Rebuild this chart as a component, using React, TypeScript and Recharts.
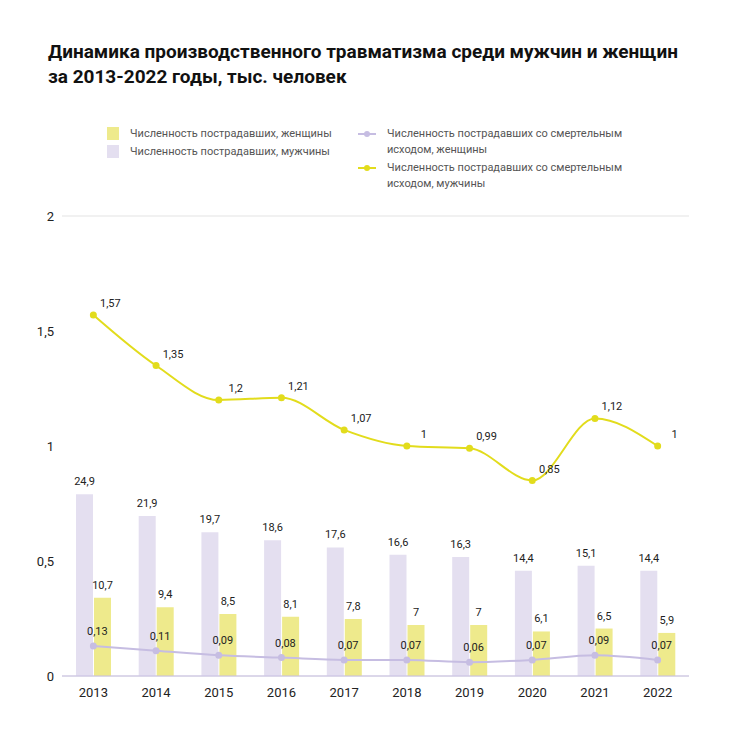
import {
  ComposedChart,
  Bar,
  Line,
  XAxis,
  YAxis,
  CartesianGrid,
  LabelList,
} from 'recharts'

const years = ['2013', '2014', '2015', '2016', '2017', '2018', '2019', '2020', '2021', '2022']
const injuredMen = [24.9, 21.9, 19.7, 18.6, 17.6, 16.6, 16.3, 14.4, 15.1, 14.4]
const injuredWomen = [10.7, 9.4, 8.5, 8.1, 7.8, 7, 7, 6.1, 6.5, 5.9]
const fatalWomen = [0.13, 0.11, 0.09, 0.08, 0.07, 0.07, 0.06, 0.07, 0.09, 0.07]
const fatalMen = [1.57, 1.35, 1.2, 1.21, 1.07, 1, 0.99, 0.85, 1.12, 1]
const leftTicks = [0, 0.5, 1, 1.5, 2]

const data = years.map((year, i) => ({
  year,
  injuredMen: injuredMen[i],
  injuredWomen: injuredWomen[i],
  fatalWomen: fatalWomen[i],
  fatalMen: fatalMen[i],
}))

const YELLOW_BAR = '#eeea8c'
const LAVENDER_BAR = '#e4dff0'
const YELLOW_LINE = '#e2dc1c'
const LAVENDER_LINE = '#c6bde2'
const FONT = 'Roboto, sans-serif'

const fmt = (v: number | string) => String(v).replace('.', ',')

// подписи над точками линий
const lineLabel = (dx: number, dy: number) => (props: any) => {
  const { x, y, value } = props
  return (
    <text x={x + dx} y={y + dy} textAnchor="middle" fontSize={11} fill="#222" fontFamily={FONT}>
      {fmt(value)}
    </text>
  )
}

const barLabel = (props: any) => {
  const { x, y, width, value } = props
  return (
    <text x={x + width / 2} y={y - 9} textAnchor="middle" fontSize={11} fill="#222" fontFamily={FONT}>
      {fmt(value)}
    </text>
  )
}

function LegendSquare({ color, label, top }: { color: string; label: string; top: number }) {
  return (
    <div style={{ position: 'absolute', left: 107, top, display: 'flex', alignItems: 'center' }}>
      <span style={{ width: 12, height: 13, background: color, display: 'inline-block' }} />
      <span style={{ marginLeft: 11, fontSize: 11, color: '#555' }}>{label}</span>
    </div>
  )
}

function LegendLine({ color, label, top }: { color: string; label: string[]; top: number }) {
  return (
    <div style={{ position: 'absolute', left: 358, top, display: 'flex', alignItems: 'flex-start' }}>
      <svg width={18} height={14} style={{ marginTop: 1 }}>
        <line x1={0} y1={7} x2={18} y2={7} stroke={color} strokeWidth={2} />
        <circle cx={9} cy={7} r={3} fill={color} />
      </svg>
      <div style={{ marginLeft: 11, fontSize: 11, color: '#555', lineHeight: '16px' }}>
        {label.map((l) => (
          <div key={l}>{l}</div>
        ))}
      </div>
    </div>
  )
}

export default function App() {
  return (
    <div
      style={{
        position: 'absolute',
        left: 0,
        top: 0,
        width: 750,
        height: 747,
        background: '#fff',
        fontFamily: FONT,
      }}
    >
      {/* Заголовок */}
      <div
        style={{
          position: 'absolute',
          left: 48,
          top: 39,
          fontSize: 19,
          fontWeight: 700,
          lineHeight: '25px',
          color: '#111',
        }}
      >
        Динамика производственного травматизма среди мужчин и женщин
        <br />
        за 2013-2022 годы, тыс. человек
      </div>

      {/* Легенда */}
      <LegendSquare color={YELLOW_BAR} label="Численность пострадавших, женщины" top={127} />
      <LegendSquare color={LAVENDER_BAR} label="Численность пострадавших, мужчины" top={145} />
      <LegendLine
        color={LAVENDER_LINE}
        label={['Численность пострадавших со смертельным', 'исходом, женщины']}
        top={126}
      />
      <LegendLine
        color={YELLOW_LINE}
        label={['Численность пострадавших со смертельным', 'исходом, мужчины']}
        top={160}
      />

      <div style={{ position: 'absolute', left: 0, top: 0 }}>
        <ComposedChart
          width={750}
          height={747}
          data={data}
          margin={{ top: 216, right: 61, bottom: 41, left: 12 }}
          barSize={17}
          barGap={1}
        >
          <CartesianGrid vertical={false} stroke="#e3e3e3" />
          <XAxis
            dataKey="year"
            axisLine={{ stroke: LAVENDER_LINE }}
            tickLine={false}
            height={30}
            tick={{ fontSize: 13, fill: '#222', fontFamily: FONT }}
            tickMargin={6}
          />
          <YAxis
            yAxisId="left"
            domain={[0, 2]}
            ticks={leftTicks}
            axisLine={false}
            tickLine={false}
            width={50}
            tickFormatter={fmt}
            tick={{ fontSize: 13, fill: '#222', fontFamily: FONT }}
          />
          <YAxis yAxisId="bars" orientation="right" domain={[0, 63]} hide />
          <Bar yAxisId="bars" dataKey="injuredMen" fill={LAVENDER_BAR} isAnimationActive={false}>
            <LabelList dataKey="injuredMen" content={barLabel} />
          </Bar>
          <Bar yAxisId="bars" dataKey="injuredWomen" fill={YELLOW_BAR} isAnimationActive={false}>
            <LabelList dataKey="injuredWomen" content={barLabel} />
          </Bar>
          <Line
            yAxisId="left"
            type="monotone"
            dataKey="fatalWomen"
            stroke={LAVENDER_LINE}
            strokeWidth={2}
            dot={{ r: 3.5, fill: LAVENDER_LINE, stroke: LAVENDER_LINE, strokeWidth: 0 }}
            isAnimationActive={false}
          >
            <LabelList dataKey="fatalWomen" content={lineLabel(4, -11)} />
          </Line>
          <Line
            yAxisId="left"
            type="monotone"
            dataKey="fatalMen"
            stroke={YELLOW_LINE}
            strokeWidth={2}
            dot={{ r: 3.5, fill: YELLOW_LINE, stroke: YELLOW_LINE, strokeWidth: 0 }}
            isAnimationActive={false}
          >
            <LabelList dataKey="fatalMen" content={lineLabel(17, -8)} />
          </Line>
        </ComposedChart>
      </div>
    </div>
  )
}
